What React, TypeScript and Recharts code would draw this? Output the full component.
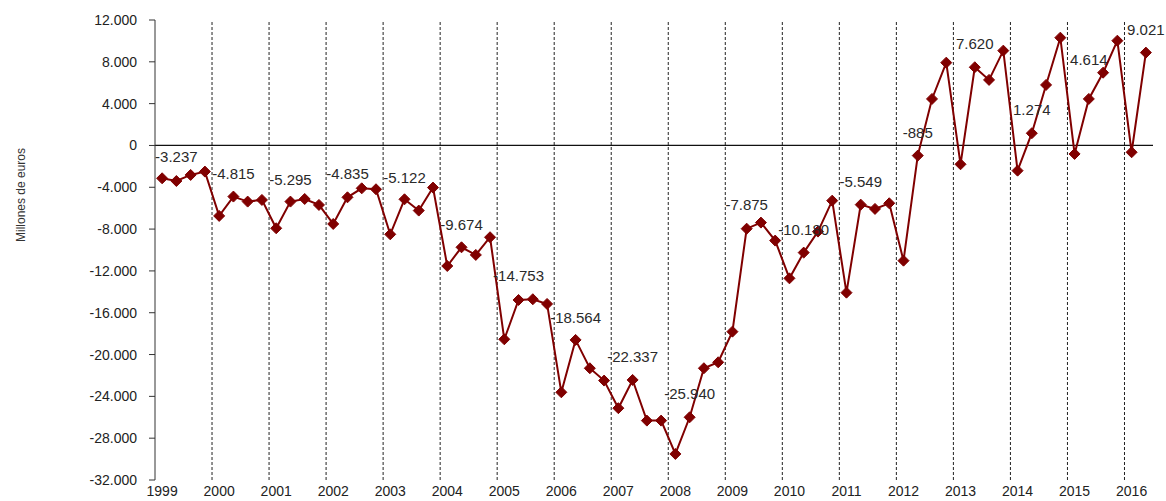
import React from "react";
import { LabelList, Line, LineChart, ReferenceLine, XAxis, YAxis } from "recharts";

// one entry per year, data runs 1999Q1 .. 2016Q2
const YEARS = [
  "1999", "2000", "2001", "2002", "2003", "2004", "2005", "2006", "2007",
  "2008", "2009", "2010", "2011", "2012", "2013", "2014", "2015", "2016",
];

// quarterly balance, millions of euros
const QUARTERLY = [
  -3140, -3400, -2820, -2500,
  -6740, -4890, -5370, -5210,
  -7920, -5370, -5120, -5690,
  -7510, -4960, -4100, -4190,
  -8500, -5150, -6230, -4030,
  -11530, -9740, -10470, -8780,
  -18540, -14780, -14710, -15160,
  -23610, -18600, -21310, -22490,
  -25130, -22430, -26320, -26320,
  -29510, -26000, -21310, -20740,
  -17810, -7960, -7380, -9100,
  -12710, -10250, -8240, -5280,
  -14080, -5660, -6070, -5530,
  -11020, -970, 4450, 7920,
  -1800, 7480, 6270, 9070,
  -2410, 1170, 5790, 10310,
  -810, 4450, 6960, 10020,
  -650, 8880,
];

// yearly figures written on the chart, and the level where each sits
const ANNUAL_TEXT = [
  "-3.237", "-4.815", "-5.295", "-4.835", "-5.122", "-9.674", "-14.753", "-18.564", "-22.337",
  "-25.940", "-7.875", "-10.180", "-5.549", "-885", "7.620", "1.274", "4.614", "9.021",
];
const LABEL_LEVELS = [
  -1070, -2660, -3230, -2660, -3080, -7540, -12480, -16470, -20140,
  -23700, -5690, -8080, -3400, 1260, 9770, 3460, 8180, 11050,
];

const Y_TICKS = [12000, 8000, 4000, 0, -4000, -8000, -12000, -16000, -20000, -24000, -28000, -32000];

const RED = "#800000";
const FONT = "'Liberation Sans', Arial, sans-serif";

const fmt = (v: number) => {
  const s = String(Math.abs(v)).replace(/\B(?=(\d{3})+(?!\d))/g, ".");
  return v < 0 ? "-" + s : s;
};

const seriesData = QUARTERLY.map((value, i) => ({ x: i + 0.5, value }));
const labelData = YEARS.map((year, i) => ({
  x: i * 4 + 1.5,
  level: LABEL_LEVELS[i],
  text: ANNUAL_TEXT[i],
}));
const yearTicks = YEARS.map((_, i) => i * 4 + 0.5);
const boundaries = YEARS.slice(1).map((_, i) => (i + 1) * 4);

const Diamond = (props: any) => {
  const { cx, cy } = props;
  if (cx == null || cy == null) return null;
  const r = 5.5;
  return (
    <path
      d={`M${cx},${cy - r}L${cx + r},${cy}L${cx},${cy + r}L${cx - r},${cy}Z`}
      fill={RED}
      stroke={RED}
      strokeWidth={1}
    />
  );
};

const AnnualLabel = (props: any) => {
  const { x, y, index } = props;
  return (
    <text
      x={x}
      y={y}
      textAnchor="middle"
      dominantBaseline="central"
      fontFamily={FONT}
      fontSize={15}
      fill="#2a2a2a"
    >
      {labelData[index].text}
    </text>
  );
};

export default function App() {
  return (
    <div style={{ position: "absolute", left: 0, top: 0, background: "#fff" }}>
      <LineChart
        width={1166}
        height={501}
        margin={{ top: 20, right: 13, bottom: 0, left: 0 }}
      >
        <XAxis
          dataKey="x"
          type="number"
          domain={[0, QUARTERLY.length]}
          ticks={yearTicks}
          tickFormatter={(v: number) => YEARS[Math.round((v - 0.5) / 4)]}
          interval={0}
          allowDuplicatedCategory={false}
          axisLine={false}
          tickLine={false}
          tickSize={0}
          tickMargin={6}
          height={21}
          tick={{ fontFamily: FONT, fontSize: 14, fill: "#222" }}
        />
        <YAxis
          type="number"
          domain={[-32000, 12000]}
          ticks={Y_TICKS}
          interval={0}
          tickFormatter={fmt}
          width={155}
          tickSize={6}
          tickMargin={12}
          axisLine={{ stroke: "#333" }}
          tickLine={{ stroke: "#333" }}
          tick={{ fontFamily: FONT, fontSize: 14, fill: "#222" }}
          label={{
            content: () => (
              <text
                x={21}
                y={195}
                transform="rotate(-90 21 195)"
                textAnchor="middle"
                dominantBaseline="central"
                fontFamily={FONT}
                fontSize={12}
                fill="#333"
              >
                Millones de euros
              </text>
            ),
          }}
        />
        {boundaries.map((b) => (
          <ReferenceLine key={b} x={b} stroke="#222" strokeDasharray="3 2" strokeWidth={1} />
        ))}
        <ReferenceLine y={0} stroke="#111" strokeWidth={1.2} />
        <Line
          data={seriesData}
          dataKey="value"
          stroke={RED}
          strokeWidth={2}
          dot={<Diamond />}
          activeDot={false}
          isAnimationActive={false}
        />
        <Line
          data={labelData}
          dataKey="level"
          stroke="none"
          dot={false}
          activeDot={false}
          isAnimationActive={false}
        >
          <LabelList dataKey="level" content={<AnnualLabel />} />
        </Line>
      </LineChart>
    </div>
  );
}
